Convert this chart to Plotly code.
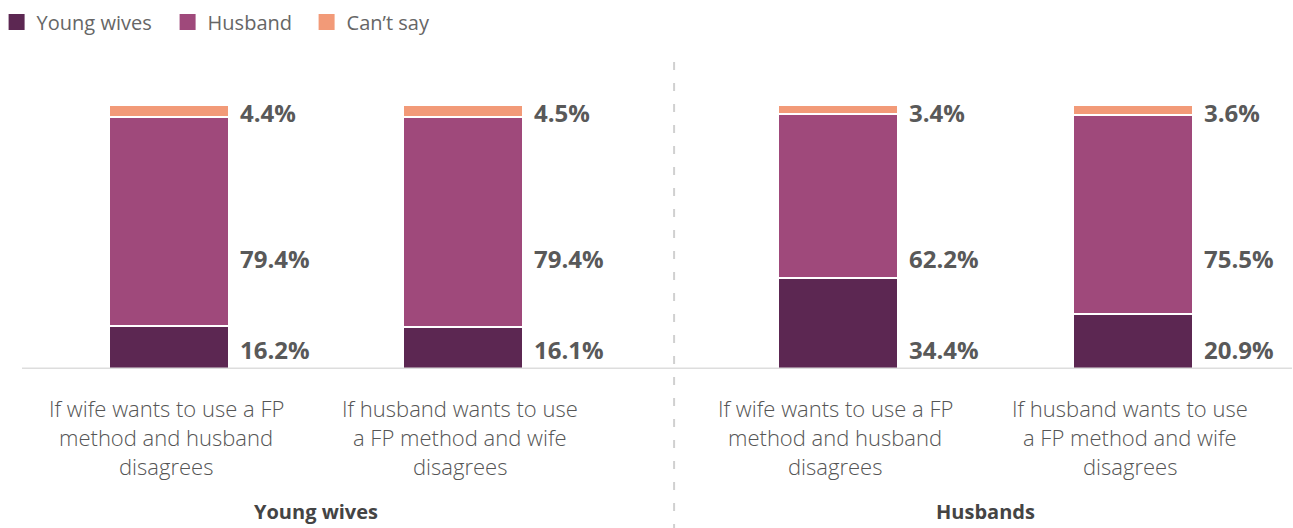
import plotly.graph_objects as go

categories = [
    "If wife wants to use a FP<br>method and husband<br>disagrees",
    "If husband wants to use<br>a FP method and wife<br>disagrees",
    "If wife wants to use a FP<br>method and husband<br>disagrees",
    "If husband wants to use<br>a FP method and wife<br>disagrees",
]
groups = ["Young wives", "Husbands"]
series_names = ["Young wives", "Husband", "Can\u2019t say"]
young_wives = [16.2, 16.1, 34.4, 20.9]
husband = [79.4, 79.4, 62.2, 75.5]
cant_say = [4.4, 4.5, 3.4, 3.6]

colors = ["#5c2752", "#9f497b", "#f29a78"]
x_pos = [0, 1, 2.276, 3.279]
bar_w = 0.408

# pixel geometry helpers (plot area: top 105, bottom 369, left 22, right 1292)
TOP, BOT, LEFT, RIGHT = 105, 369, 22, 1292
H = BOT - TOP
W = RIGHT - LEFT
def py(ypx):
    return (BOT - ypx) / H
def px(xpx):
    return (xpx - LEFT) / W

legend_ids = ["legend", "legend2", "legend3"]
legend_left_px = [8, 179, 318]

fig = go.Figure()
for name, vals, col, lid in zip(series_names, [young_wives, husband, cant_say], colors, legend_ids):
    fig.add_trace(go.Bar(
        x=x_pos, y=vals, name=name, width=bar_w,
        marker=dict(color=col, line=dict(color="white", width=2)),
        showlegend=False, hoverinfo="y+name",
    ))
    fig.add_trace(go.Scatter(
        x=[None], y=[None], mode="markers", name=name,
        marker=dict(symbol="square", size=18, color=col),
        showlegend=True, legend=lid,
    ))

label_font = dict(family="Open Sans", size=24, color="#595959", weight="bold")
label_y = [7.2, 41.7, 97.0]
for i, xp in enumerate(x_pos):
    for vals, ly in zip([young_wives, husband, cant_say], label_y):
        fig.add_annotation(
            x=xp + 0.235, y=ly, xref="x", yref="y",
            text=f"{vals[i]:.1f}%", showarrow=False,
            xanchor="left", yanchor="middle", font=label_font,
        )

cat_font = dict(family="Open Sans", size=22, color="#555555", weight=300)
line_px = [408, 437, 466]
for i, xp in enumerate(x_pos):
    for ln, ypx in zip(categories[i].split("<br>"), line_px):
        fig.add_annotation(
            x=xp - 0.01, y=py(ypx), xref="x", yref="paper",
            text=ln, showarrow=False, xanchor="center", yanchor="middle",
            font=cat_font,
        )

grp_font = dict(family="Open Sans", size=20, color="#444444", weight="bold")
for g, xc in zip(groups, [(x_pos[0] + x_pos[1]) / 2, (x_pos[2] + x_pos[3]) / 2]):
    fig.add_annotation(
        x=xc, y=py(512), xref="x", yref="paper", text=g, showarrow=False,
        xanchor="center", yanchor="middle", font=grp_font,
    )

# baseline
fig.add_shape(type="line", xref="paper", yref="y", x0=0, x1=1, y0=0, y1=0,
              line=dict(color="#dddddd", width=3))
# dashed divider
fig.add_shape(type="line", xref="x", yref="paper", x0=1.718, x1=1.718,
              y0=py(62), y1=py(535), line=dict(color="#d0d0d0", width=2, dash="8px,13px"))

x_min = x_pos[0] - (169 - LEFT) / 294
x_max = x_pos[0] + (RIGHT - 169) / 294

legend_font = dict(family="Open Sans", size=20, color="#666666")
legends = {}
for lid, lx in zip(legend_ids, legend_left_px):
    legends[lid] = dict(orientation="h", x=px(lx - 11.4), xanchor="left", y=py(22),
                        yanchor="middle", font=legend_font,
                        itemsizing="trace", bgcolor="rgba(0,0,0,0)")

fig.update_layout(
    barmode="stack",
    width=1293, height=528,
    margin=dict(l=LEFT, r=1293 - RIGHT, t=TOP, b=528 - BOT, pad=0, autoexpand=False),
    paper_bgcolor="white", plot_bgcolor="white",
    xaxis=dict(range=[x_min, x_max], showgrid=False, zeroline=False,
               showticklabels=False, ticks=""),
    yaxis=dict(range=[0, 100], showgrid=False, zeroline=False,
               showticklabels=False, ticks=""),
    showlegend=True,
    **legends,
)
fig.write_html(
    "out.html",
    config={"displayModeBar": False},
    post_script="document.body.style.margin='0';document.body.style.overflow='hidden';",
)
